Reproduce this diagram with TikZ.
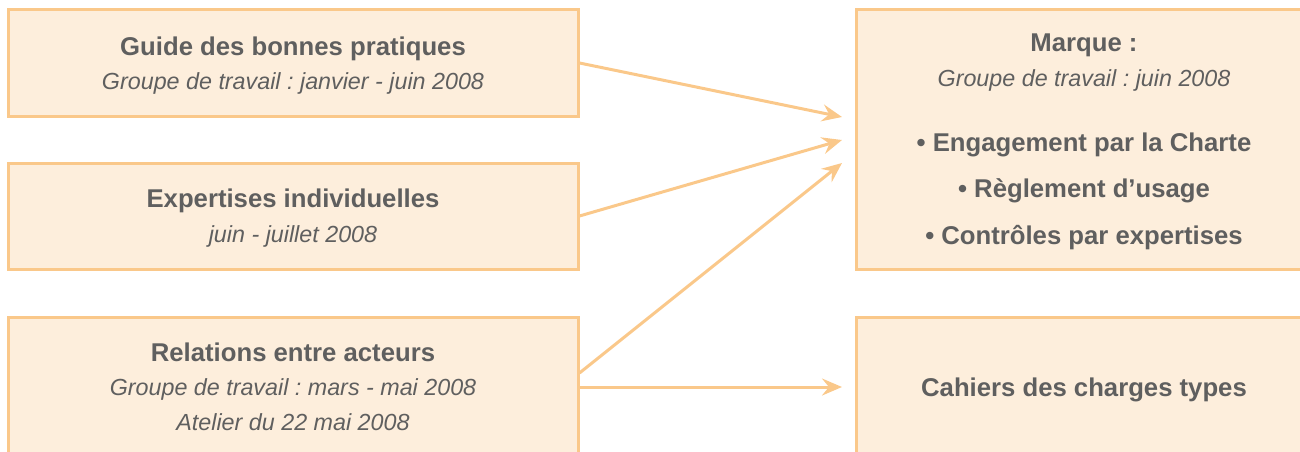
\documentclass[tikz,border=0pt]{standalone}
\usepackage{fontspec}
\setmainfont{Liberation Sans}
\usepackage{tikz}
\usetikzlibrary{arrows.meta}
\definecolor{boxline}{HTML}{FAC88A}
\definecolor{boxfill}{HTML}{FDEEDC}
\definecolor{boxtext}{HTML}{5F5F5F}
\newcommand{\quand}[1]{{\fontsize{23.3}{34}\selectfont\mdseries\itshape #1}}
\frenchspacing

\begin{document}
\begin{tikzpicture}[x=1pt,y=-1pt,
        etape/.style={draw=boxline, fill=boxfill, line width=3pt, text=boxtext,
          align=center, inner sep=0pt, text depth=0pt,
          font=\fontsize{25.7}{34}\selectfont\bfseries},
        fleche/.style={draw=boxline, line width=3pt,
          -{Stealth[length=20pt,width=17pt,inset=7pt]}}]
        \useasboundingbox (0,0) rectangle (1300,452);
        \node[etape, minimum width=570pt, minimum height=106pt] (guide) at (293,63)
          {Guide des bonnes pratiques\\ \quand{Groupe de travail : janvier - juin 2008}};
        \node[etape, minimum width=570pt, minimum height=106pt] (expertises) at (293,216)
          {Expertises individuelles\\[1pt] \quand{juin - juillet 2008}};
        \node[etape, minimum width=570pt, minimum height=140pt] (relations) at (293,387)
          {Relations entre acteurs\\ \quand{Groupe de travail : mars - mai 2008}\\[1pt] \quand{Atelier du 22 mai 2008}};
        \node[etape, minimum width=456pt, minimum height=259pt] (marque) at (1084,139.5)
          {Marque :\\[1pt] \quand{Groupe de travail : juin 2008}\\[31pt]
           • Engagement par la Charte\\[12pt] • Règlement d’usage\\[13pt] • Contrôles par expertises};
        \node[etape, minimum width=456pt, minimum height=140pt] (cahiers) at (1084,387)
          {Cahiers des charges types};
        \coordinate (m1) at (842,117);
        \coordinate (m2) at (842,140);
        \coordinate (m3) at (842,163);
        \coordinate (c1) at (842,387);
        \draw[fleche] (guide.east) -- (m1);
        \draw[fleche] (expertises.east) -- (m2);
        \draw[fleche] ([yshift=14pt]relations.east) -- (m3);
        \draw[fleche] (relations.east) -- (c1);
\end{tikzpicture}
\end{document}
